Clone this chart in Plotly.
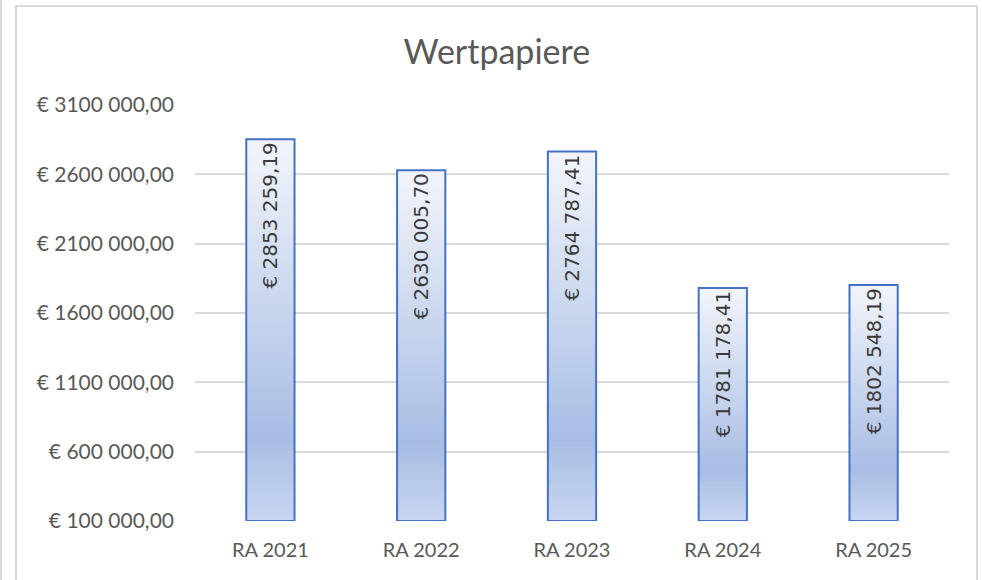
import plotly.graph_objects as go

CATEGORIES = ["RA 2021", "RA 2022", "RA 2023", "RA 2024", "RA 2025"]
VALUES = [2853259.19, 2630005.70, 2764787.41, 1781178.41, 1802548.19]
TICK_VALUES = [100000, 600000, 1100000, 1600000, 2100000, 2600000, 3100000]
TICK_LABELS = [
    "€ 100 000,00", "€ 600 000,00", "€ 1100 000,00", "€ 1600 000,00",
    "€ 2100 000,00", "€ 2600 000,00", "€ 3100 000,00",
]

Y_MIN = 100000
Y_MAX = 3100000
TEXT_COLOR = "#595959"
GRID_COLOR = "#d9d9d9"
OUTLINE_COLOR = "#4472c4"
BAR_WIDTH = 0.32
SEGMENTS = 60

# gradient stops (position from top of bar, rgb)
GRADIENT = [(0.0, (242, 245, 251)), (0.78, (168, 189, 228)), (1.0, (200, 214, 240))]


def euro(v):
    whole = int(v)
    cents = round((v - whole) * 100)
    s = str(whole)
    if len(s) > 3:
        s = s[:-3] + " " + s[-3:]
    return f"€ {s},{cents:02d}"


def grad_color(t):
    for (p0, c0), (p1, c1) in zip(GRADIENT, GRADIENT[1:]):
        if p0 <= t <= p1:
            f = (t - p0) / (p1 - p0)
            r, g, b = (round(a + (b_ - a) * f) for a, b_ in zip(c0, c1))
            return f"rgb({r},{g},{b})"
    return "rgb(%d,%d,%d)" % GRADIENT[-1][1]


fig = go.Figure()

# Excel-style vertical gradient: each layer runs from the axis floor up to
# a slightly lower top, so later layers cover earlier ones without seams
for i in range(SEGMENTS):
    frac = i / SEGMENTS
    fig.add_trace(
        go.Bar(
            x=CATEGORIES,
            y=[(v - Y_MIN) * (1 - frac) for v in VALUES],
            base=[Y_MIN] * len(VALUES),
            width=BAR_WIDTH,
            marker={"color": grad_color(frac + 0.5 / SEGMENTS), "line": {"width": 0}},
            showlegend=False,
            hoverinfo="skip",
        )
    )

fig.add_trace(
    go.Bar(
        x=CATEGORIES,
        y=[v - Y_MIN for v in VALUES],
        base=[Y_MIN] * len(VALUES),
        width=BAR_WIDTH,
        marker={"color": "rgba(0,0,0,0)", "line": {"color": OUTLINE_COLOR, "width": 2}},
        text=[euro(v) for v in VALUES],
        textposition="inside",
        insidetextanchor="end",
        textangle=-90,
        textfont={"family": "DejaVu Sans", "size": 20, "color": "#3a3a3a"},
        constraintext="none",
        showlegend=False,
        hovertemplate="%{x}<br>%{text}<extra></extra>",
    )
)

fig.update_layout(
    barmode="overlay",
    width=982,
    height=580,
    paper_bgcolor="white",
    plot_bgcolor="white",
    font={"family": "Lato, sans-serif", "color": TEXT_COLOR},
    title={
        "text": "Wertpapiere",
        "x": 0.506,
        "xanchor": "center",
        "y": 0.91,
        "yanchor": "middle",
        "font": {"size": 34, "color": TEXT_COLOR},
    },
    margin={"l": 195, "r": 33, "t": 105, "b": 59},
    shapes=[
        {
            "type": "rect",
            "xref": "paper",
            "yref": "paper",
            "x0": (16 - 195) / 754,
            "x1": (977 - 195) / 754,
            "y0": -0.2,
            "y1": (521 - 6) / 416,
            "line": {"color": "#d9d9d9", "width": 2},
            "layer": "below",
        },
        {
            "type": "line",
            "xref": "paper",
            "yref": "paper",
            "x0": (1 - 195) / 754,
            "x1": (1 - 195) / 754,
            "y0": -0.2,
            "y1": 1.3,
            "line": {"color": "#d9d9d9", "width": 2},
            "layer": "below",
        },
    ],
)
fig.update_xaxes(
    showgrid=False,
    showline=False,
    ticks="",
    ticklabelstandoff=15,
    tickfont={"size": 20, "color": TEXT_COLOR},
)
fig.update_yaxes(
    range=[Y_MIN, Y_MAX],
    tickvals=TICK_VALUES,
    ticktext=TICK_LABELS,
    showgrid=True,
    gridcolor=GRID_COLOR,
    gridwidth=1.5,
    zeroline=False,
    showline=False,
    ticks="",
    ticklabelstandoff=20,
    tickfont={"size": 21, "color": TEXT_COLOR},
)

fig.write_html(
    "out.html",
    config={"displayModeBar": False},
    post_script="document.body.style.margin='0';",
)
